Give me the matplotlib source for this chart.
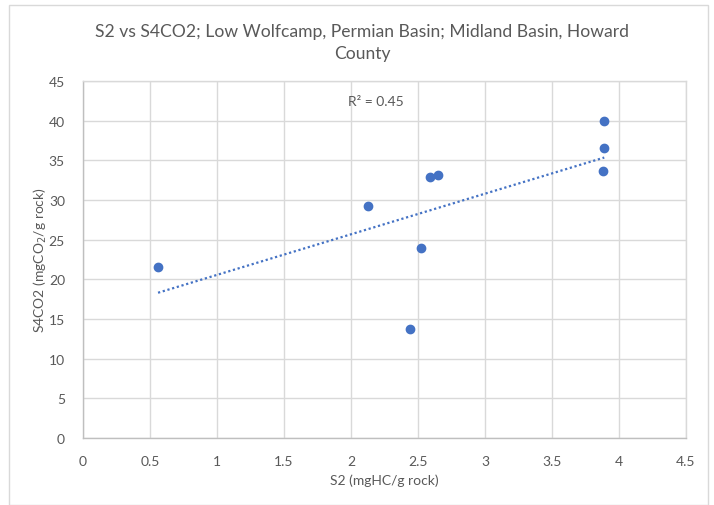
import numpy as np
import matplotlib
matplotlib.use("Agg")
import matplotlib.pyplot as plt
from matplotlib.patches import Rectangle

# Data
s2 = [0.56, 2.125, 2.59, 2.65, 2.52, 2.44, 3.89, 3.89, 3.88]
s4co2 = [21.6, 29.2, 32.9, 33.1, 23.9, 13.8, 39.9, 36.6, 33.6]
x_ticks = [0, 0.5, 1, 1.5, 2, 2.5, 3, 3.5, 4, 4.5]
x_tick_labels = ["0", "0.5", "1", "1.5", "2", "2.5", "3", "3.5", "4", "4.5"]
y_ticks = [0, 5, 10, 15, 20, 25, 30, 35, 40, 45]
r2_label = "R² = 0.45"
title = "S2 vs S4CO2; Low Wolfcamp, Permian Basin; Midland Basin, Howard\nCounty"

plt.rcParams['font.family'] = ['Lato', 'DejaVu Sans']
blue = "#4472C4"
gray_text = "#595959"
grid_c = "#d9d9d9"

fig = plt.figure(figsize=(7.14, 5.06), dpi=100)
fig.patches.append(Rectangle((9/714, 0), 699/714, 1 - 6/506, transform=fig.transFigure,
                             fill=False, edgecolor="#d9d9d9", linewidth=1.0))
ax = fig.add_axes([83/714, 1 - 439/506, (686 - 83)/714, (439 - 82)/506])

ax.set_xlim(0, 4.5)
ax.set_ylim(0, 45)
ax.set_xticks(x_ticks)
ax.set_xticklabels(x_tick_labels)
ax.set_yticks(y_ticks)
ax.grid(True, color=grid_c, linewidth=1.0)
ax.set_axisbelow(True)
for sp in ax.spines.values():
    sp.set_color(grid_c)
    sp.set_linewidth(1.0)
ax.spines['left'].set_color("#bfbfbf")
ax.spines['bottom'].set_color("#bfbfbf")
ax.tick_params(length=0, colors=gray_text, labelsize=10)
ax.tick_params(axis='x', pad=12)
ax.tick_params(axis='y', pad=13)

# Trendline
xs = np.array(s2)
ys = np.array(s4co2)
m, b = np.polyfit(xs, ys, 1)
xl = np.array([xs.min(), xs.max()])
ax.plot(xl, m * xl + b, color=blue, linewidth=1.6, linestyle=(0, (1, 1.2)), zorder=2)

ax.plot(s2, s4co2, linestyle="none", marker="o", markersize=6, color=blue,
        markeredgecolor=blue, zorder=3)

ax.text(1.98, 42.5, r2_label, color=gray_text, fontsize=10,
        va="center", ha="left")

ax.set_xlabel("S2 (mgHC/g rock)", color=gray_text, fontsize=10, labelpad=5)
ax.set_ylabel("S4CO2 (mgCO$_2$/g rock)", color=gray_text, fontsize=10, labelpad=0)

fig.text(362/714, 1 - 43/506, title, ha="center", va="center", color=gray_text,
         fontsize=12.6, linespacing=1.4)

fig.savefig("out.png", dpi=100)
